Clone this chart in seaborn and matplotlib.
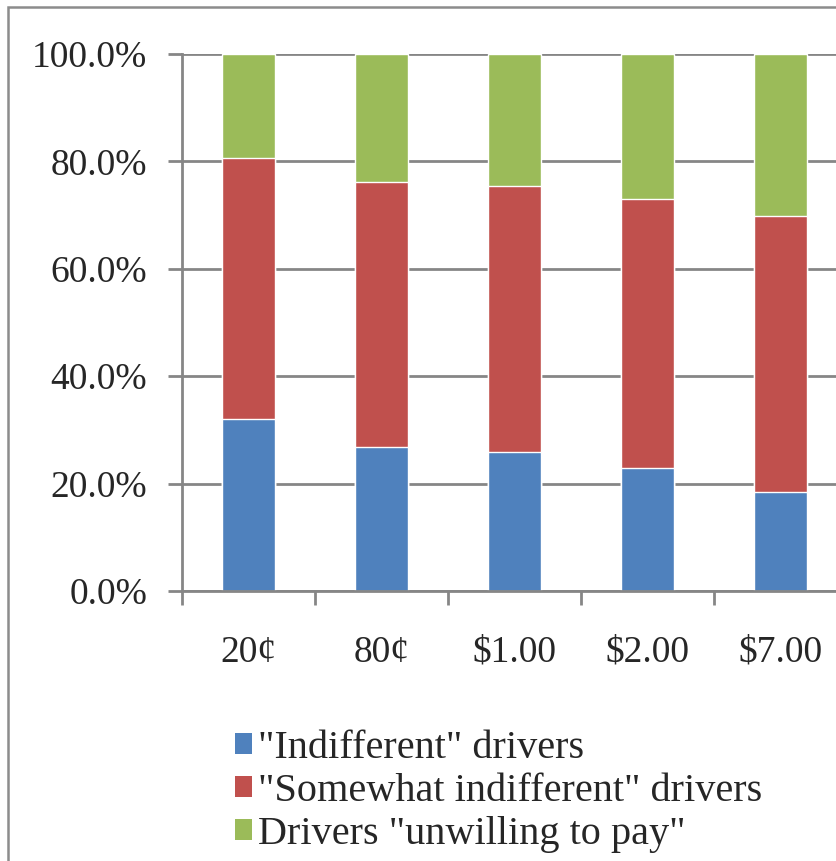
import pandas as pd
import matplotlib
matplotlib.use("Agg")
import matplotlib.pyplot as plt
import seaborn as sns
from matplotlib.patches import Rectangle, Patch
from matplotlib.ticker import FuncFormatter, FixedLocator

# dados (percentuais por faixa de preco)
categorias = ["20¢", "80¢", "$1.00", "$2.00", "$7.00"]
indiferentes = [32.0, 26.8, 25.9, 22.9, 18.4]
pouco_indiferentes = [48.6, 49.4, 49.5, 50.1, 51.4]
nao_pagariam = [19.4, 23.8, 24.6, 27.0, 30.2]
rotulos = ['"Indifferent" drivers', '"Somewhat indifferent" drivers',
           'Drivers "unwilling to pay"']
cores = ["#4F81BD", "#C0504D", "#9BBB59"]

sns.set_style("white")
plt.rcParams["font.family"] = ["Liberation Serif", "DejaVu Serif"]

df = pd.DataFrame({"preco": categorias, "ind": indiferentes,
                   "pouco": pouco_indiferentes, "nao": nao_pagariam})
df["topo_pouco"] = df["ind"] + df["pouco"]
df["topo_nao"] = df["topo_pouco"] + df["nao"]

W, H = 836, 861
fig = plt.figure(figsize=(W / 100, H / 100), dpi=100)

# moldura externa do grafico (estilo Excel, cortada a direita/embaixo)
fig.patches.append(Rectangle((8 / W, -0.1), 1.2, 1 - 7 / H + 0.1,
                             transform=fig.transFigure, fill=False,
                             edgecolor="#8C8C8C", linewidth=1.8))

ax = fig.add_axes([182 / W, (H - 591) / H, (847 - 182) / W, (591 - 54) / H])
cinza = "#868686"

# barras empilhadas desenhadas do total para a base
sns.barplot(data=df, x="preco", y="topo_nao", color=cores[2], width=0.4,
            saturation=1, ax=ax, order=categorias)
sns.barplot(data=df, x="preco", y="topo_pouco", color=cores[1], width=0.4,
            saturation=1, ax=ax, order=categorias)
sns.barplot(data=df, x="preco", y="ind", color=cores[0], width=0.4,
            saturation=1, ax=ax, order=categorias)

ax.set_xlim(-0.5, 4.5)
ax.set_ylim(0, 100)
ax.set_yticks([0, 20, 40, 60, 80, 100])
ax.yaxis.set_major_formatter(FuncFormatter(lambda v, p: f"{v:.1f}%"))
ax.yaxis.grid(True, color=cinza, linewidth=2)
ax.set_axisbelow(True)

for lado in ["top", "right"]:
    ax.spines[lado].set_visible(False)
for lado in ["left", "bottom"]:
    ax.spines[lado].set_color(cinza)
    ax.spines[lado].set_linewidth(2)

ax.xaxis.set_minor_locator(FixedLocator([-0.5, 0.5, 1.5, 2.5, 3.5, 4.5]))
ax.tick_params(axis="x", which="major", length=0, pad=32, labelsize=27)
ax.tick_params(axis="x", which="minor", length=10, width=2, color=cinza,
               direction="out", bottom=True)
ax.tick_params(axis="y", length=10, width=2, color=cinza, direction="out",
               left=True, pad=15, labelsize=27)
ax.set_xlabel("")
ax.set_ylabel("")

alcas = [Patch(facecolor=c, edgecolor="none") for c in cores]
fig.legend(alcas, rotulos, loc="upper left",
           bbox_to_anchor=(235 / W, 1 - 730 / H), frameon=False,
           fontsize=29, handlelength=0.42, handleheight=0.42,
           handletextpad=0.15, labelspacing=0.15, borderaxespad=0,
           borderpad=0)

fig.savefig("out.png", dpi=100)
